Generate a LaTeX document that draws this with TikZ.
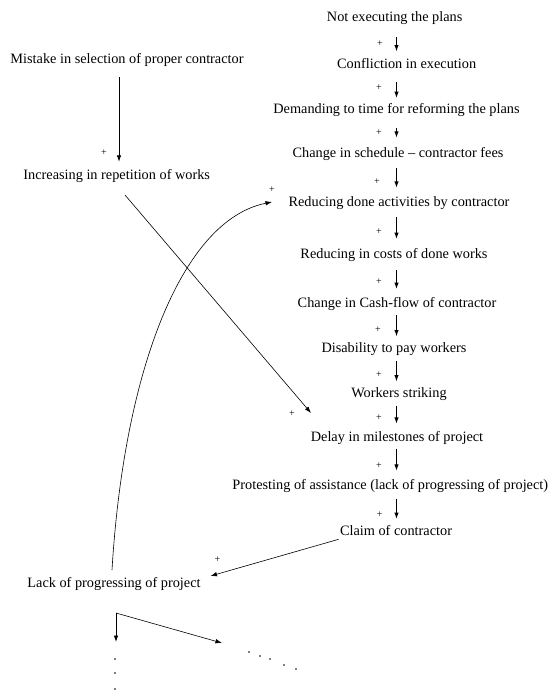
\documentclass[tikz,border=0pt]{standalone}
\usepackage{fontspec}
\setmainfont{Liberation Serif}
\usetikzlibrary{arrows.meta}
\begin{document}
\begin{tikzpicture}[x=1pt,y=-1pt,
  lbl/.style={inner sep=0pt, text height=10pt, text depth=3pt, font=\fontsize{14.3}{17}\selectfont},
  pl/.style={inner sep=0pt, font=\fontsize{10}{12}\selectfont},
  arr/.style={-{Latex[length=6.5pt,width=4.5pt]}, line width=1.1pt},
  midarr/.style={-{Latex[length=6.5pt,width=4.5pt]}, line width=0.8pt},
  thinarr/.style={-{Latex[length=6.5pt,width=4.5pt]}, line width=0.6pt},
  sh/.style 2 args={shorten <=#1pt, shorten >=#2pt}]
\useasboundingbox (0,0) rectangle (550,694);
\coordinate (ax) at (396.5,0);
% right column
\node[lbl] (n1) at (394.7,18.3) {Not executing the plans};
\node[lbl] (n2) at (406.7,65.3) {Confliction in execution};
\node[lbl] (n3) at (396.5,110) {Demanding to time for reforming the plans};
\node[lbl] (n4) at (398,154) {Change in schedule -- contractor fees};
\node[lbl] (n5) at (399,203.3) {Reducing done activities by contractor};
\node[lbl] (n6) at (394,255) {Reducing in costs of done works};
\node[lbl] (n7) at (397,304.3) {Change in Cash-flow of contractor};
\node[lbl] (n8) at (394,349.3) {Disability to pay workers};
\node[lbl] (n9) at (399,394) {Workers striking};
\node[lbl] (n10) at (397,438.3) {Delay in milestones of project};
\node[lbl] (n11) at (390.3,486) {Protesting of assistance (lack of progressing of project)};
\node[lbl] (n12) at (396,532.3) {Claim of contractor};
% left column
\node[lbl] (mis) at (127,60) {Mistake in selection of proper contractor};
\node[lbl] (inc) at (116.7,176) {Increasing in repetition of works};
\node[lbl] (lack) at (114,584) {Lack of progressing of project};
% plus signs
\node[pl] (p1) at (380,43.3) {+};
\node[pl] (p2) at (379,87.3) {+};
\node[pl] (p3) at (379,132.3) {+};
\node[pl] (p4) at (377,181.7) {+};
\node[pl] (p5) at (379,231.7) {+};
\node[pl] (p6) at (379,281.7) {+};
\node[pl] (p7) at (378,330) {+};
\node[pl] (p8) at (379,374.3) {+};
\node[pl] (p9) at (379,417.7) {+};
\node[pl] (p10) at (379,465.7) {+};
\node[pl] (p11) at (379.6,515) {+};
\node[pl] (pa) at (104,153) {+};
\node[pl] (pb) at (272,190) {+};
\node[pl] (pc) at (292,414) {+};
\node[pl] (pd) at (217.5,559.3) {+};
% right column arrows
\draw[arr, sh={11.9}{7.1}] (n1.south -| ax) -- (n2.north -| ax);
\draw[arr, sh={9.9}{5.2}] (n2.south -| ax) -- (n3.north -| ax);
\draw[arr, sh={11.5}{9.5}] (n3.south -| ax) -- (n4.north -| ax);
\draw[arr, sh={7.5}{8.8}] (n4.south -| ax) -- (n5.north -| ax);
\draw[arr, sh={6.9}{9.2}] (n5.south -| ax) -- (n6.north -| ax);
\draw[arr, sh={8.5}{8.5}] (n6.south -| ax) -- (n7.north -| ax);
\draw[arr, sh={4.2}{6.1}] (n7.south -| ax) -- (n8.north -| ax);
\draw[arr, sh={4.9}{5.8}] (n8.south -| ax) -- (n9.north -| ax);
\draw[arr, sh={5.2}{7.8}] (n9.south -| ax) -- (n10.north -| ax);
\draw[arr, sh={3.5}{8.5}] (n10.south -| ax) -- (n11.north -| ax);
\draw[arr, sh={5.8}{6.5}] (n11.south -| ax) -- (n12.north -| ax);
% left connectors
\draw[midarr, sh={10.5}{7.5}] ([xshift=-8pt]mis.south) -- ([xshift=2.3pt]inc.north);
\draw[thinarr] ([shift={(8.3,19)}]inc.center) -- ([shift={(-86,-25.3)}]n10.center);
\draw[thinarr] ([shift={(-2,-14)}]lack.center) .. controls (124,370) and (182,220) .. ([shift={(-127,-1.3)}]n5.center);
\draw[thinarr] ([shift={(-57.4,7)}]n12.center) -- ([shift={(96.5,-8)}]lack.center);
% branch below
\coordinate (br) at (116,613);
\coordinate (d1) at (116,642);
\coordinate (d2) at (222,643);
\draw[midarr] (br) -- (d1);
\draw[thinarr] (br) -- (d2);
% dots
\foreach \p in {(115,659),(115,673),(115,689),(249,652),(260,656),(270,659),(284,665),(296,669)}
  \fill \p circle (0.9);
\end{tikzpicture}
\end{document}
